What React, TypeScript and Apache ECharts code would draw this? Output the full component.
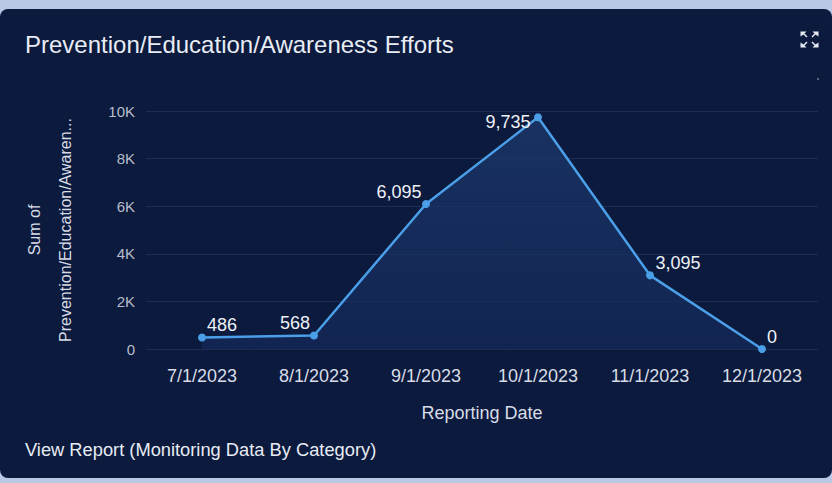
import React, { useEffect, useRef } from "react";
import * as echarts from "echarts";

const categories = ["7/1/2023", "8/1/2023", "9/1/2023", "10/1/2023", "11/1/2023", "12/1/2023"];
const values = [486, 568, 6095, 9735, 3095, 0];
const labelOffsets: [number, number][] = [[20, 1], [-19, 1], [-27, 1], [-30, 18], [28, 1], [10, 1]];
const yTicks = { min: 0, max: 10000, interval: 2000 };

const FONT = "'Liberation Sans', Arial, sans-serif";

export default function App() {
  const ref = useRef<HTMLDivElement>(null);
  useEffect(() => {
    const chart = echarts.init(ref.current!, undefined, { renderer: "svg" });
    const arrow = "#e6eaf2";
    const cx = 809.5, cy = 39.5;
    const corner = (sx: number, sy: number) => ({
      type: "polygon",
      shape: {
        points: [
          [cx + sx * 9, cy + sy * 8],
          [cx + sx * 3, cy + sy * 8],
          [cx + sx * 5, cy + sy * 6],
          [cx + sx * 2, cy + sy * 3],
          [cx + sx * 3, cy + sy * 2],
          [cx + sx * 6, cy + sy * 5],
          [cx + sx * 9, cy + sy * 3],
        ],
      },
      style: { fill: arrow },
    });
    chart.setOption({
      animation: false,
      backgroundColor: "#b9c9e5",
      graphic: [
        { type: "rect", z: -10, shape: { x: 0, y: 9, width: 832, height: 469, r: 8 }, style: { fill: "#0b1a3d" } },
        { type: "text", left: 25, top: 32, style: { text: "Prevention/Education/Awareness Efforts", fill: "#e8ecf4", font: `24px ${FONT}` } },
        { type: "text", left: 25, top: 440, style: { text: "View Report (Monitoring Data By Category)", fill: "#e8ecf4", font: `18.3px ${FONT}` } },
        corner(-1, -1),
        corner(1, -1),
        corner(-1, 1),
        corner(1, 1),
        { type: "circle", shape: { cx: 818, cy: 79, r: 1 }, style: { fill: "#6a7896" } },
      ],
      grid: { left: 146, right: 14, top: 111, bottom: 134 },
      xAxis: {
        type: "category",
        data: categories,
        boundaryGap: true,
        axisLine: { show: false },
        axisTick: { show: false },
        axisLabel: { color: "#d8dce6", fontSize: 18, fontFamily: FONT, margin: 18 },
        name: "Reporting Date",
        nameLocation: "middle",
        nameGap: 55,
        nameTextStyle: { color: "#d8dce6", fontSize: 18, fontFamily: FONT },
      },
      yAxis: {
        type: "value",
        min: yTicks.min,
        max: yTicks.max,
        interval: yTicks.interval,
        axisLine: { show: false },
        axisTick: { show: false },
        splitLine: { lineStyle: { color: "#1d2c52", width: 1 } },
        axisLabel: {
          color: "#b8bdcc",
          fontSize: 15,
          fontFamily: FONT,
          margin: 11,
          formatter: (v: number) => (v === 0 ? "0" : v / 1000 + "K"),
        },
        name: "Sum of\nPrevention/Education/Awaren...",
        nameLocation: "middle",
        nameGap: 65,
        nameRotate: 90,
        nameTextStyle: { color: "#d8dce6", fontSize: 16, fontFamily: FONT, lineHeight: 31 },
      },
      series: [
        {
          type: "line",
          data: values.map((v, i) => ({
            value: v,
            label: { offset: labelOffsets[i] },
          })),
          symbol: "circle",
          symbolSize: 8,
          itemStyle: { color: "#4a9fe8" },
          lineStyle: { color: "#4a9fe8", width: 2.5 },
          areaStyle: {
            color: new echarts.graphic.LinearGradient(0, 0, 0, 1, [
              { offset: 0, color: "#1e3c70" },
              { offset: 1, color: "#15295a" },
            ]),
          },
          label: {
            show: true,
            position: "top",
            distance: 0,
            color: "#eef1f6",
            fontSize: 18,
            fontFamily: FONT,
            formatter: (p: any) => Number(p.value).toLocaleString("en-US"),
          },
        },
      ],
    });
    return () => chart.dispose();
  }, []);
  return <div ref={ref} style={{ position: "absolute", left: 0, top: 0, width: 832, height: 483 }} />;
}
